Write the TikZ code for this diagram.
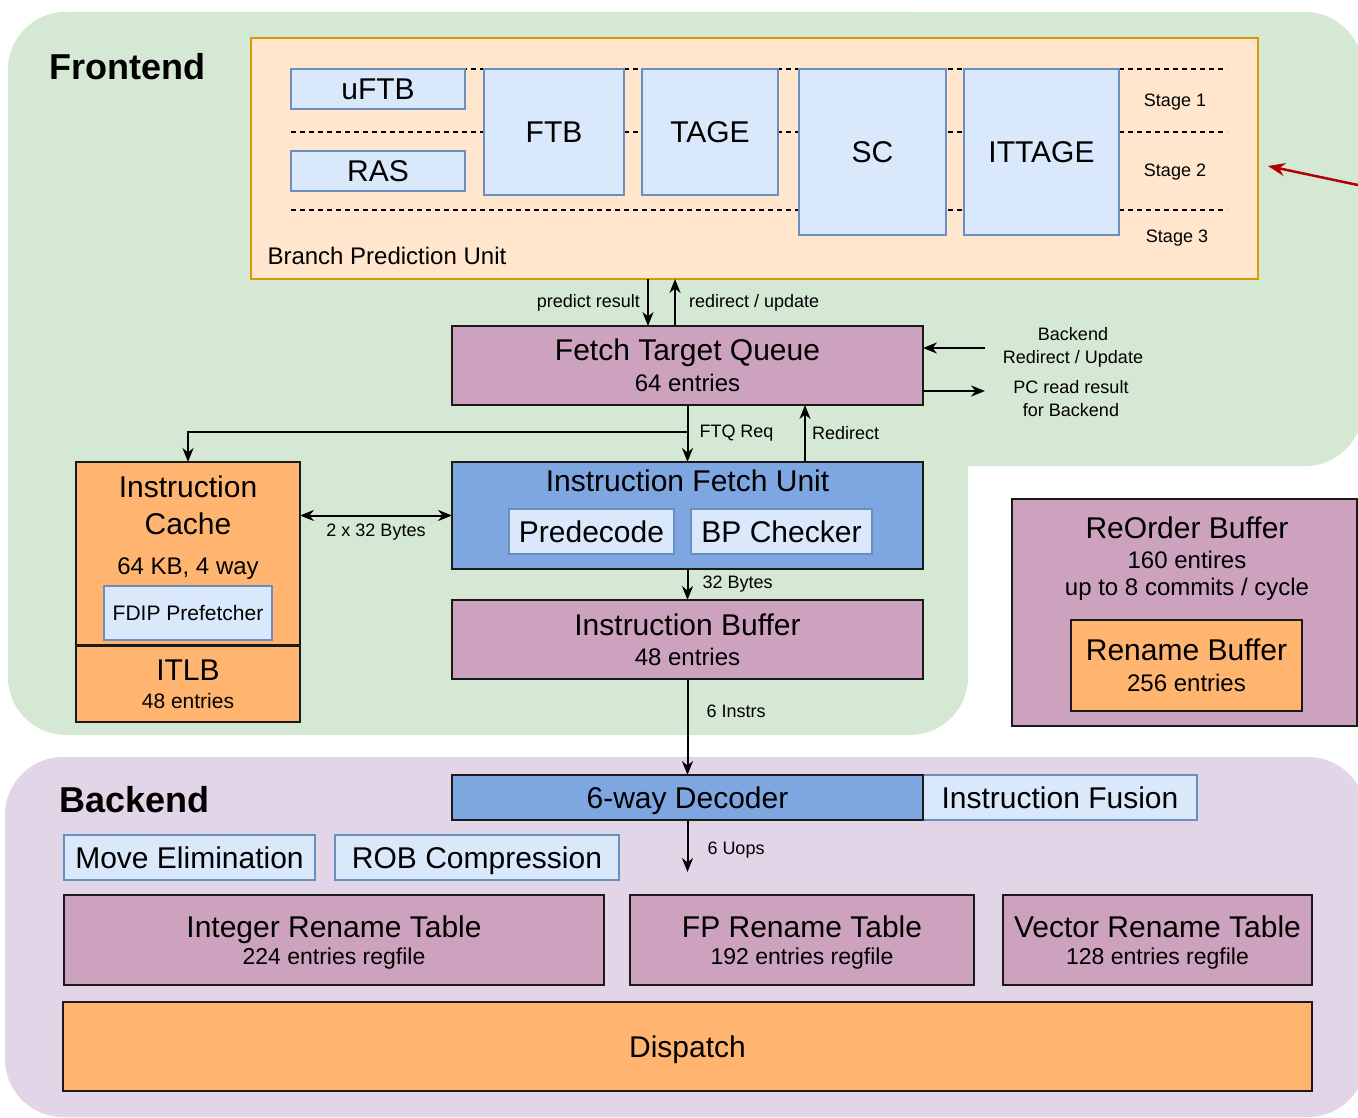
\documentclass[tikz,border=0pt]{standalone}
\usepackage{fontspec}
\setmainfont{Liberation Sans}
\usetikzlibrary{arrows.meta}
\usetikzlibrary{positioning}

\definecolor{frontbg}{HTML}{D5E8D4}
\definecolor{backbg}{HTML}{E1D5E7}
\definecolor{bpufill}{HTML}{FFE6CC}
\definecolor{bpuline}{HTML}{D79B00}
\definecolor{lightblue}{HTML}{DAE8FC}
\definecolor{lightline}{HTML}{6C8EBF}
\definecolor{midblue}{HTML}{7EA6E0}
\definecolor{mauve}{HTML}{CDA2BE}
\definecolor{orng}{HTML}{FFB570}
\definecolor{darkline}{HTML}{1A1A1A}
\definecolor{redline}{HTML}{B20000}

\newcommand{\szhead}{\fontsize{36}{40}\selectfont\bfseries}
\newcommand{\szbig}{\fontsize{30}{34}\selectfont}
\newcommand{\szmid}{\fontsize{24}{30}\selectfont}
\newcommand{\szreg}{\fontsize{23}{28}\selectfont}
\newcommand{\szsmall}{\fontsize{21}{27}\selectfont}
\newcommand{\szlab}{\fontsize{18}{23}\selectfont}

\tikzset{
	sz/.style 2 args={minimum width=#1, minimum height=#2, inner sep=0pt, outer sep=0pt, align=center},
	darkbox/.style={draw=darkline, line width=2pt},
	mauvebox/.style={darkbox, fill=mauve, font=\szbig},
	orangebox/.style={darkbox, fill=orng, font=\szbig},
	bluebox/.style={darkbox, fill=midblue, font=\szbig},
	lightbox/.style={draw=lightline, line width=1.5pt, fill=lightblue, font=\szbig},
	lab/.style={font=\szlab, inner sep=1pt, align=center},
	stageline/.style={dash pattern=on 5pt off 4pt, line width=1.3pt},
	arr/.style={line width=2pt, -{Stealth[length=14pt, width=11pt]}},
	dbl/.style={line width=2pt, {Stealth[length=14pt, width=11pt]}-{Stealth[length=14pt, width=11pt]}},
	redarr/.style={draw=redline, line width=2.5pt, -{Stealth[length=17pt, width=13pt]}}
}

\begin{document}
\begin{tikzpicture}[x=1pt, y=-1pt]
	\useasboundingbox (0,0) rectangle (1358,1118);
	\fill[white] (0,0) rectangle (1358,1118);
	\clip (0,0) rectangle (1358,1118);
	\fill[frontbg, rounded corners=58] (8,12) rectangle (1363,466);
	\fill[frontbg, rounded corners=58] (8,12) rectangle (968,735);
	\fill[backbg, rounded corners=58] (5,757) rectangle (1366,1117);

	\node[anchor=west, font=\szhead] (fronttitle) at (46,67) {Frontend};
	\node[anchor=west, font=\szhead] (backtitle) at (56,800) {Backend};

	\node[sz={1007}{241}, draw=bpuline, line width=1.5pt, fill=bpufill] (bpu) at (754.5,158.5) {};
	\foreach \y in {69,132,210}
		\draw[stageline] (291,\y) -- (1227,\y);
	\node[lightbox, sz={174}{40}] (uftb) at (378,89) {uFTB};
	\node[lightbox, sz={174}{40}] (ras) at (378,171) {RAS};
	\node[lightbox, sz={140}{126}] (ftb) at (554,132) {FTB};
	\node[lightbox, sz={136}{126}] (tage) at (710,132) {TAGE};
	\node[lightbox, sz={147}{166}] (sc) at (872.5,152) {SC};
	\node[lightbox, sz={155}{166}] (ittage) at (1041.5,152) {ITTAGE};
	\node[lab] (stage1) at (1175,102) {Stage 1};
	\node[lab] (stage2) at (1175,172) {Stage 2};
	\node[lab] (stage3) at (1177,238) {Stage 3};
	\node[anchor=west, font=\szmid] (bpulabel) at (264,256) {Branch Prediction Unit};

	\coordinate (redtail) at (1372,188);
	\coordinate (redtip) at (1268,166);
	\draw[redarr] (redtail) -- (redtip);

	\node[mauvebox, sz={471}{79}, text depth=0pt] (ftq) at (687.5,365.5) {Fetch Target Queue\\[-3pt]\szmid 64 entries};
	\node[orangebox, sz={224}{183}] (icache) at (188,553.5) {};
	\node[font=\szbig, align=center] (ictitle) at (188,505.5) {Instruction\\[3pt]Cache};
	\node[font=\szmid] (icsize) at (188,569) {64 KB, 4 way};
	\node[lightbox, sz={168}{54}, font=\szsmall] (fdip) at (188,613) {FDIP Prefetcher};
	\node[orangebox, sz={224}{76}] (itlb) at (188,684) {ITLB\\[-6pt]\szsmall 48 entries};

	\node[bluebox, sz={471}{107}] (ifu) at (687.5,515.5) {};
	\node[font=\szbig] (ifutitle) at (687.5,481) {Instruction Fetch Unit};
	\node[lightbox, sz={165}{45}] (predecode) at (591.5,531.5) {Predecode};
	\node[lightbox, sz={181}{45}] (bpcheck) at (781.5,531.5) {BP Checker};
	\node[mauvebox, sz={471}{79}] (ibuf) at (687.5,639.5) {Instruction Buffer\\[-4pt]\szmid 48 entries};

	\node[mauvebox, sz={345}{227}] (rob) at (1184.5,612.5) {};
	\node[font=\szbig] (robtitle) at (1187,528) {ReOrder Buffer};
	\node[font=\szmid] (robsize) at (1187,560) {160 entires};
	\node[font=\szmid] (robcommit) at (1187,589) {up to 8 commits / cycle};
	\node[orangebox, sz={231}{91}, text depth=0pt] (renbuf) at (1186.5,665.5) {Rename Buffer\\[-3pt]\szmid 256 entries};

	\node[lightbox, sz={274}{45}] (fusion) at (1060,797.5) {Instruction Fusion};
	\node[bluebox, sz={471}{45}, text depth=0pt] (decoder) at (687.5,797.5) {6-way Decoder};
	\node[lightbox, sz={251}{45}] (moveelim) at (189.5,857.5) {Move Elimination};
	\node[lightbox, sz={284}{45}, text depth=0pt] (robcomp) at (477,857.5) {ROB Compression};
	\node[mauvebox, sz={540}{90}, text depth=0pt] (intrt) at (334,940) {Integer Rename Table\\[-7pt]\szreg 224 entries regfile};
	\node[mauvebox, sz={344}{90}, text depth=0pt] (fprt) at (802,940) {FP Rename Table\\[-7pt]\szreg 192 entries regfile};
	\node[mauvebox, sz={309}{90}, text depth=0pt] (vecrt) at (1157.5,940) {Vector Rename Table\\[-7pt]\szreg 128 entries regfile};
	\node[orangebox, sz={1249}{89}, text depth=0pt] (dispatch) at (687.5,1046.5) {Dispatch};

	\coordinate (predx) at (648,0);
	\coordinate (updx) at (675,0);
	\coordinate (redirx) at (805,0);
	\draw[arr] (predx |- bpu.south) -- (predx |- ftq.north) node[midway, left=6pt, lab] {predict result};
	\draw[arr] (updx |- ftq.north) -- (updx |- bpu.south) node[midway, right=12pt, lab] {redirect / update};

	\coordinate (bkin) at (985,348);
	\coordinate (pcout) at (985,391);
	\draw[arr] (bkin) -- (bkin -| ftq.east);
	\draw[arr] (pcout -| ftq.east) -- (pcout);
	\node[lab] (bklabel) at (1073,347) {Backend\\Redirect / Update};
	\node[lab] (pclabel) at (1071,399) {PC read result\\for Backend};

	\coordinate (reqsplit) at (687.5,432);
	\draw[arr] (ftq.south) -- (ifu.north) node[midway, right=10pt, lab] {FTQ Req};
	\draw[arr] (reqsplit) -| (icache.north);
	\draw[arr] (redirx |- ifu.north) -- (redirx |- ftq.south) node[midway, right=5pt, lab] {Redirect};
	\draw[dbl] (icache.east |- ifu.west) -- (ifu.west) node[midway, below=6pt, lab] {2 x 32 Bytes};
	\draw[arr] (ifu.south) -- (ibuf.north) node[midway, right=13pt, lab] {32 Bytes};
	\draw[arr] (ibuf.south) -- (decoder.north) node[pos=0.34, right=17pt, lab] {6 Instrs};
	\coordinate (uopsend) at (687.5,872);
	\draw[arr] (decoder.south) -- (uopsend) node[pos=0.58, right=18pt, lab] {6 Uops};
\end{tikzpicture}
\end{document}
